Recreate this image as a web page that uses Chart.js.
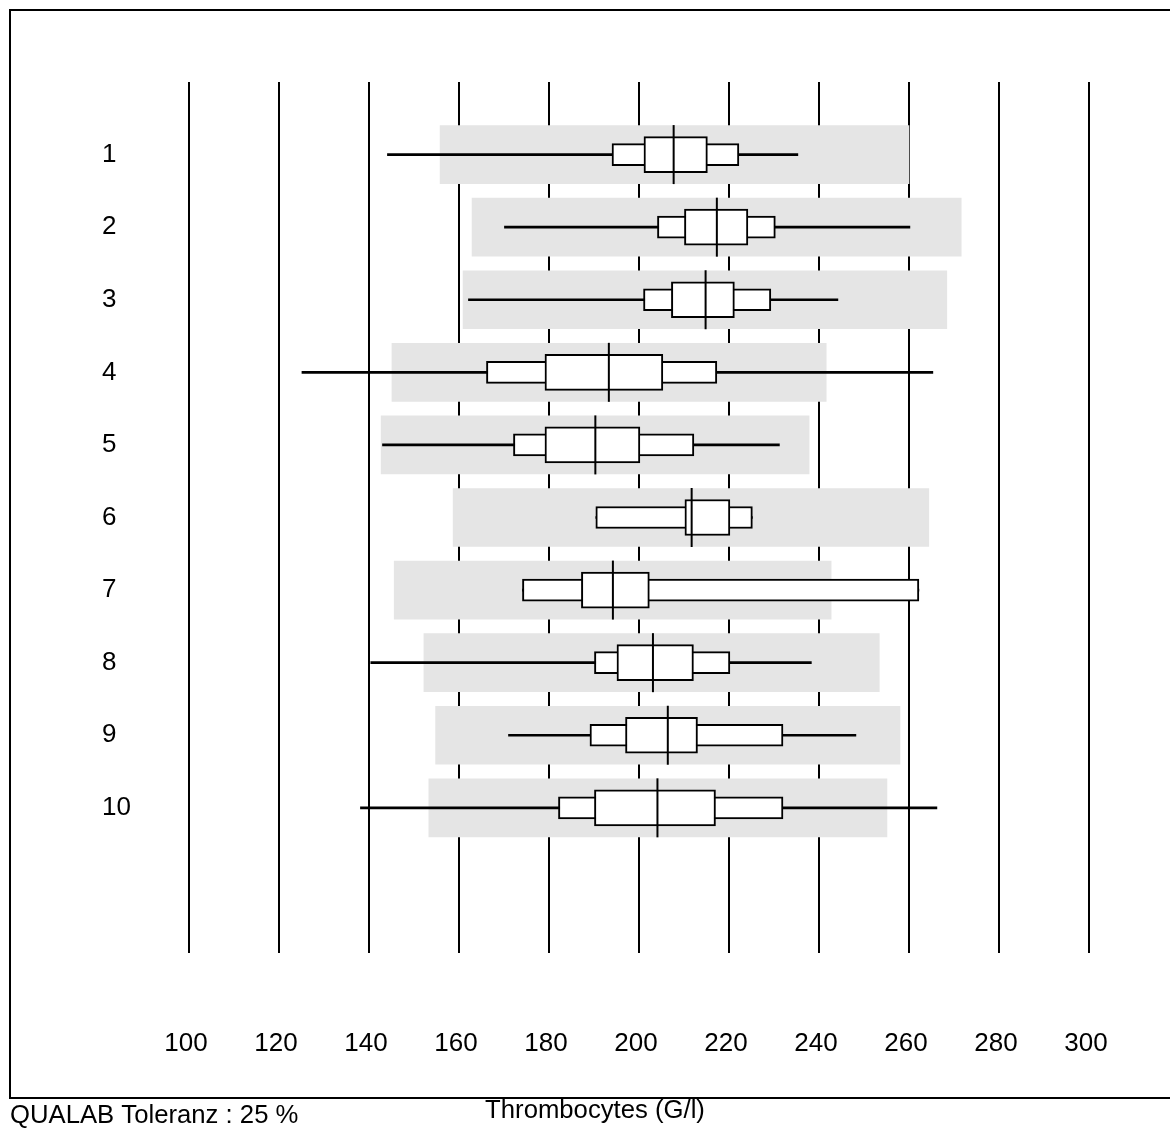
<!DOCTYPE html>
<html lang="de">
  <head>
    <meta charset="UTF-8" />
    <title>Thrombocytes (G/l)</title>
    <script src="https://cdn.jsdelivr.net/npm/chart.js"></script>
    <style>
      body { margin: 0; background: #fff; }
      canvas { display: block; }
    </style>
  </head>
  <body>
    <canvas id="chart" width="1170" height="1131"></canvas>

    <script>
      // Zeilen (Labore) und Werte
      const rows = [1, 2, 3, 4, 5, 6, 7, 8, 9, 10];
      const rowLabels = ["1", "2", "3", "4", "5", "6", "7", "8", "9", "10"];

      // Toleranzbereich (graues Band)
      const bandLow = [155.8, 162.9, 160.9, 145.1, 142.7, 158.7, 145.6, 152.2, 154.8, 153.3];
      const bandHigh = [260.0, 271.6, 268.4, 241.6, 237.8, 264.4, 242.7, 253.4, 258.0, 255.1];

      // Min / Max (Linie)
      const minVals = [144.1, 170.1, 162.1, 125.1, 143.0, 190.4, 174.1, 140.4, 171.0, 138.1];
      const maxVals = [235.3, 260.2, 244.2, 265.3, 231.2, 225.2, 262.2, 238.3, 248.2, 266.2];

      // äussere Box
      const p10 = [194.0, 204.1, 201.0, 166.1, 172.1, 190.4, 174.1, 190.1, 189.1, 182.1];
      const p90 = [222.2, 230.3, 229.3, 217.3, 212.2, 225.2, 262.2, 220.2, 232.0, 232.0];

      // innere Box
      const q1 = [201.1, 210.1, 207.2, 179.1, 179.1, 210.2, 187.2, 195.1, 197.0, 190.1];
      const q3 = [215.2, 224.2, 221.2, 205.3, 200.2, 220.2, 202.3, 212.1, 213.0, 217.0];

      // Median
      const medians = [207.7, 217.3, 214.8, 193.3, 190.3, 211.7, 194.2, 203.1, 206.4, 204.1];

      const footerLeft = "QUALAB Toleranz : 25 %";
      const axisTitle = "Thrombocytes (G/l)";

      Chart.defaults.font.family = "'Liberation Sans', Arial, sans-serif";
      Chart.defaults.color = "#000";

      const toRange = (lo, hi) => rows.map((r, i) => ({ x: [lo[i], hi[i]], y: r }));

      // Rahmen und Fusszeile
      const framePlugin = {
        id: "frame",
        afterDraw(chart) {
          const c = chart.ctx;
          c.save();
          c.strokeStyle = "#000";
          c.lineWidth = 2;
          c.beginPath();
          c.moveTo(1170, 10);
          c.lineTo(10, 10);
          c.lineTo(10, 1098);
          c.lineTo(1170, 1098);
          c.stroke();

          c.fillStyle = "#000";
          c.font = "25.7px 'Liberation Sans', Arial, sans-serif";
          c.textBaseline = "middle";
          c.textAlign = "left";
          c.fillText(footerLeft, 10, 1116);
          c.textAlign = "center";
          c.fillText(axisTitle, 595, 1111);
          c.restore();
        },
      };

      new Chart(document.getElementById("chart"), {
        type: "bar",
        data: {
          datasets: [
            {
              label: "Toleranz",
              data: toRange(bandLow, bandHigh),
              backgroundColor: "#e5e5e5",
              barThickness: 58,
              order: 5,
            },
            {
              label: "Min-Max",
              data: toRange(minVals, maxVals),
              backgroundColor: "#000",
              barThickness: 2,
              order: 4,
            },
            {
              label: "aussen",
              data: toRange(p10, p90),
              backgroundColor: "#fff",
              borderColor: "#000",
              borderWidth: 2,
              borderSkipped: false,
              barThickness: 22,
              order: 3,
            },
            {
              label: "innen",
              data: toRange(q1, q3),
              backgroundColor: "#fff",
              borderColor: "#000",
              borderWidth: 2,
              borderSkipped: false,
              barThickness: 36,
              order: 2,
            },
            {
              type: "scatter",
              label: "Median",
              data: rows.map((r, i) => ({ x: medians[i], y: r })),
              pointStyle: "line",
              pointRotation: 90,
              pointRadius: 29.5,
              pointBorderWidth: 2,
              pointBorderColor: "#000",
              order: 1,
            },
          ],
        },
        options: {
          indexAxis: "y",
          responsive: false,
          animation: false,
          layout: { padding: { left: 102, top: 82, right: 81, bottom: 68 } },
          datasets: { bar: { grouped: false } },
          plugins: {
            legend: { display: false },
            tooltip: { enabled: false },
          },
          scales: {
            x: {
              type: "linear",
              min: 100,
              max: 300,
              // unsichtbare Tick-Striche schieben die Beschriftung nach unten
              grid: { color: "#000", lineWidth: 2, drawTicks: true, tickLength: 72, tickColor: "rgba(0,0,0,0)" },
              border: { display: false },
              ticks: { stepSize: 20, padding: 3, labelOffset: -3, font: { size: 26 } },
              afterFit: (s) => { s.height = 110; },
            },
            y: {
              type: "linear",
              min: 0,
              max: 12,
              reverse: true,
              offset: false,
              grid: { display: false },
              border: { display: false },
              afterBuildTicks: (s) => { s.ticks = rows.map((v) => ({ value: v })); },
              ticks: {
                autoSkip: false,
                crossAlign: "far",
                font: { size: 26 },
                callback: (v) => rowLabels[rows.indexOf(v)],
              },
              afterFit: (s) => { s.width = 87; },
            },
          },
        },
        plugins: [framePlugin],
      });
    </script>
  </body>
</html>
